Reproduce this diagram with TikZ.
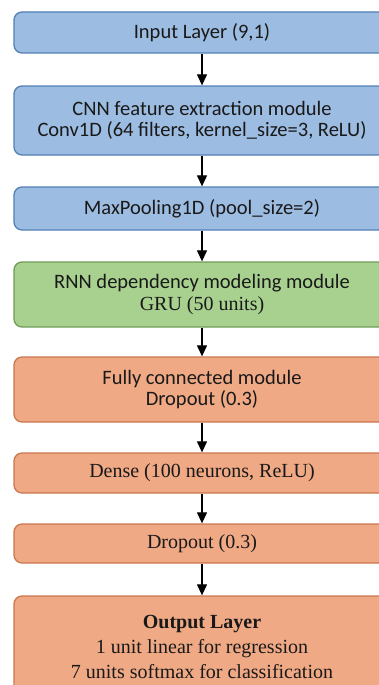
\documentclass[tikz,border=0pt]{standalone}
\usepackage{fontspec}
\setmainfont{Liberation Serif}
\newfontfamily\calib{Carlito}
\usetikzlibrary{arrows.meta}

\definecolor{bluefill}{HTML}{9DBCE1}
\definecolor{blueline}{HTML}{5281B8}
\definecolor{greenfill}{HTML}{A8D18F}
\definecolor{greenline}{HTML}{709C58}
\definecolor{orangefill}{HTML}{F0A985}
\definecolor{orangeline}{HTML}{CC774E}

\tikzset{
  layer/.style={draw, line width=1.3pt, rounded corners=8pt, minimum width=376pt,
    align=center, inner sep=2pt, text=black!90},
  sanstext/.style={font=\calib\fontsize{20.5}{21.5}\selectfont},
  serftext/.style={font=\fontsize{20}{25}\selectfont},
  bluebox/.style={layer, fill=bluefill, draw=blueline, sanstext},
  greenbox/.style={layer, fill=greenfill, draw=greenline, sanstext},
  orangebox/.style={layer, fill=orangefill, draw=orangeline, serftext},
  flow/.style={line width=1.2pt, -{Triangle[length=11pt,width=10pt]}}
}

\begin{document}
\begin{tikzpicture}[x=1pt,y=-1pt]
                \clip (0,0) rectangle (379,685);
                \fill[white] (0,0) rectangle (379,685);
                % CNN part
                \node[bluebox, minimum height=41pt] (input) at (202,32.5) {Input Layer (9,1)};
                \node[bluebox, minimum height=69pt] (conv) at (202,120.5) {CNN feature extraction module\\Conv1D (64 filters, kernel\_size=3, ReLU)};
                \node[bluebox, minimum height=43pt] (pool) at (202,208.5) {MaxPooling1D (pool\_size=2)};
                % RNN part
                \node[greenbox, minimum height=65pt] (gru) at (202,294.5) {RNN dependency modeling module\\{\rmfamily\fontsize{20}{21.5}\selectfont GRU (50 units)}};
                % fully connected part
                \node[orangebox, sanstext, minimum height=65pt] (fc) at (202,389.5) {Fully connected module\\Dropout (0.3)};
                \node[orangebox, minimum height=40pt] (dense) at (202,473) {Dense (100 neurons, ReLU)};
                \node[orangebox, minimum height=39pt] (drop) at (202,543.5) {Dropout (0.3)};
                \node[orangebox, minimum height=102pt] (output) at (202,647) {\textbf{Output Layer}\\1 unit linear for regression\\7 units softmax for classification};
                % arrows
                \draw[flow] (input) -- (conv);
                \draw[flow] (conv) -- (pool);
                \draw[flow] (pool) -- (gru);
                \draw[flow] (gru) -- (fc);
                \draw[flow] (fc) -- (dense);
                \draw[flow] (dense) -- (drop);
                \draw[flow] (drop) -- (output);
\end{tikzpicture}
\end{document}
